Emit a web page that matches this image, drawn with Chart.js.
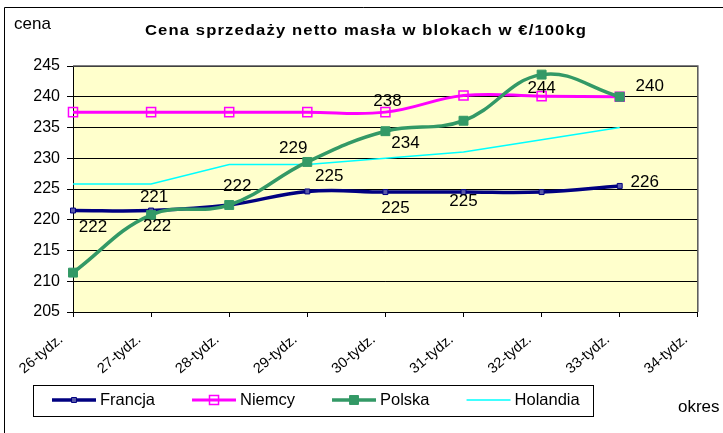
<!DOCTYPE html>
<html><head><meta charset="utf-8">
<script src="https://cdn.jsdelivr.net/npm/chart.js@4.4.0/dist/chart.umd.min.js"></script>
<style>html,body{margin:0;padding:0;background:#fff;}#wrap{width:723px;height:433px;position:relative;}</style>
</head><body><div id="wrap"><canvas id="c" width="723" height="433"></canvas></div>
<script>
// ---- data ----
const categories = ['26-tydz.','27-tydz.','28-tydz.','29-tydz.','30-tydz.','31-tydz.','32-tydz.','33-tydz.','34-tydz.'];
const francja  = [221.5, 221.5, 222.4, 224.6, 224.5, 224.5, 224.5, 225.5];
const niemcy   = [237.5, 237.5, 237.5, 237.5, 237.5, 240.2, 240.1, 240.0];
const polska   = [211.4, 220.8, 222.4, 229.4, 234.4, 236.1, 243.6, 240.0];
const holandia = [225.8, 225.8, 229.0, 229.0, 230.0, 231.0, 233.0, 235.0];
const seriesNames = ['Francja', 'Niemcy', 'Polska', 'Holandia'];
const yMin = 205, yMax = 245, yStep = 5;
const titleText = 'Cena sprzedaży netto masła w blokach w €/100kg';
const yAxisTitle = 'cena';
const xAxisTitle = 'okres';

const FONT = '"Liberation Sans", Arial, sans-serif';
Chart.defaults.font.family = FONT;
Chart.defaults.color = '#000';

// data label placement (series index, point index, offset in px)
const labelPlacement = [
  {s:0,i:0,dx:20,dy:17},{s:2,i:1,dx:3,dy:-18},{s:0,i:1,dx:6,dy:16},
  {s:2,i:2,dx:8,dy:-19},{s:2,i:3,dx:-14,dy:-14},{s:0,i:3,dx:22,dy:-15},
  {s:1,i:4,dx:2,dy:-11},{s:2,i:4,dx:20,dy:12},{s:0,i:4,dx:10,dy:16},
  {s:0,i:5,dx:0,dy:9},{s:2,i:6,dx:0,dy:14},{s:2,i:7,dx:30,dy:-10},
  {s:0,i:7,dx:25,dy:-4}
];

const decor = {
  id: 'decor',
  beforeDraw(chart) {
    const {ctx, chartArea: a} = chart;
    ctx.save();
    ctx.fillStyle = '#FFFFCC';
    ctx.fillRect(a.left, a.top, a.right - a.left, a.bottom - a.top);
    ctx.strokeStyle = '#000'; ctx.lineWidth = 1;
    ctx.beginPath();
    ctx.moveTo(4.5, 433); ctx.lineTo(4.5, 7.5); ctx.lineTo(723, 7.5);
    ctx.stroke();
    ctx.restore();
  },
  afterDatasetsDraw(chart) {
    const {ctx, chartArea: a} = chart;
    ctx.save();
    ctx.strokeStyle = '#555'; ctx.lineWidth = 1.5;
    ctx.beginPath();
    ctx.moveTo(a.left, a.top); ctx.lineTo(a.right, a.top); ctx.lineTo(a.right, a.bottom);
    ctx.stroke();
    // data labels
    ctx.fillStyle = '#000';
    ctx.font = '17px ' + FONT;
    ctx.textAlign = 'center'; ctx.textBaseline = 'middle';
    labelPlacement.forEach(p => {
      const meta = chart.getDatasetMeta(p.s);
      const el = meta.data[p.i];
      const v = chart.data.datasets[p.s].data[p.i];
      ctx.fillText(String(Math.round(v)), el.x + p.dx, el.y + p.dy);
    });
    ctx.restore();
  },
  afterDraw(chart) {
    const {ctx} = chart;
    ctx.save();
    ctx.fillStyle = '#000';
    // title, stretched horizontally to the reference width
    ctx.font = 'bold 15px ' + FONT;
    ctx.textBaseline = 'alphabetic'; ctx.textAlign = 'left';
    ctx.save();
    const chars = Array.from(titleText);
    const sp = 1;
    let natural = 0;
    chars.forEach(ch => { natural += ctx.measureText(ch).width + sp; });
    natural -= sp;
    const k = 441 / natural;
    ctx.translate(145, 35); ctx.scale(k, 1);
    let x = 0;
    chars.forEach(ch => { ctx.fillText(ch, x, 0); x += ctx.measureText(ch).width + sp; });
    ctx.restore();
    // axis titles
    ctx.font = '17px ' + FONT;
    ctx.fillText(yAxisTitle, 14, 29);
    ctx.fillText(xAxisTitle, 678, 412);
    // legend
    ctx.strokeStyle = '#000'; ctx.lineWidth = 1;
    ctx.strokeRect(33.5, 385.5, 560, 31);
    ctx.font = '16.5px ' + FONT;
    ctx.textBaseline = 'middle';
    let lx = 52; const ly = 400;
    chart.data.datasets.forEach(ds => {
      ctx.strokeStyle = ds.borderColor; ctx.lineWidth = ds.borderWidth;
      ctx.beginPath(); ctx.moveTo(lx, ly); ctx.lineTo(lx + 44, ly); ctx.stroke();
      if (ds.pointRadius > 0) {
        ctx.fillStyle = ds.pointBackgroundColor; ctx.strokeStyle = ds.pointBorderColor;
        ctx.lineWidth = ds.pointBorderWidth;
        Chart.helpers.drawPoint(ctx, {pointStyle: ds.pointStyle, rotation: 0, radius: ds.pointRadius, borderWidth: ds.pointBorderWidth}, lx + 22, ly);
      }
      ctx.fillStyle = '#000';
      ctx.fillText(ds.label, lx + 48, ly);
      lx += 48 + ctx.measureText(ds.label).width + 37;
    });
    ctx.restore();
  }
};

new Chart(document.getElementById('c'), {
  type: 'line',
  data: {
    labels: categories,
    datasets: [
      {label: seriesNames[0], data: francja, borderColor: '#000080', borderWidth: 3.5, tension: 0.4,
       pointStyle: 'rect', pointRadius: 3.5, pointBorderColor: '#000080', pointBackgroundColor: '#5a5aa8', pointBorderWidth: 1, order: 3},
      {label: seriesNames[1], data: niemcy, borderColor: '#FF00FF', borderWidth: 3, tension: 0.4,
       pointStyle: 'rect', pointRadius: 6.4, pointBorderColor: '#FF00FF', pointBackgroundColor: 'rgba(0,0,0,0)', pointBorderWidth: 1.5, order: 2},
      {label: seriesNames[2], data: polska, borderColor: '#339966', borderWidth: 3.5, tension: 0.4,
       pointStyle: 'rect', pointRadius: 6.3, pointBorderColor: '#339966', pointBackgroundColor: '#339966', pointBorderWidth: 1, order: 0},
      {label: seriesNames[3], data: holandia, borderColor: '#00FFFF', borderWidth: 1.5, tension: 0,
       pointRadius: 0, pointBorderWidth: 0, order: 1}
    ]
  },
  options: {
    responsive: false, animation: false, events: [],
    layout: {padding: {left: 0, top: 66, right: 25, bottom: 0}},
    plugins: {legend: {display: false}, title: {display: false}, tooltip: {enabled: false}},
    scales: {
      x: {
        offset: false,
        grid: {drawOnChartArea: false, drawTicks: true, tickLength: 5, color: '#000'},
        border: {color: '#000', width: 1},
        ticks: {minRotation: 40, maxRotation: 40, autoSkip: false, font: {size: 14.5}, color: '#000', padding: 14, labelOffset: -12},
        afterFit: s => { s.height = 121; }
      },
      y: {
        min: yMin, max: yMax,
        grid: {color: '#000', tickLength: 6},
        border: {color: '#000', width: 1},
        ticks: {stepSize: yStep, font: {size: 16}, color: '#000', padding: 7},
        afterFit: s => { s.width = 73; }
      }
    }
  },
  plugins: [decor]
});
</script></body></html>
